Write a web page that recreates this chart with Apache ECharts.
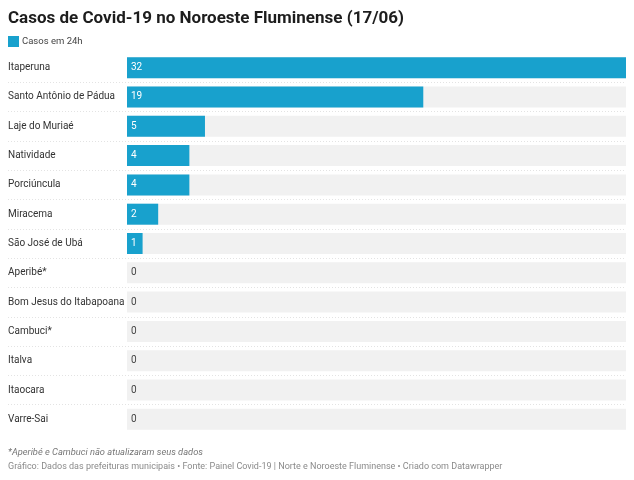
<!DOCTYPE html>
<html>
<head>
<meta charset="utf-8">
<script src="https://cdn.jsdelivr.net/npm/echarts@6/dist/echarts.min.js"></script>
<style>
  html, body { margin: 0; padding: 0; background: #fff; }
  #chart { width: 634px; height: 480px; }
</style>
</head>
<body>
<div id="chart"></div>
<script>
// municípios, de cima para baixo
const cities = [
  'Itaperuna', 'Santo Antônio de Pádua', 'Laje do Muriaé', 'Natividade',
  'Porciúncula', 'Miracema', 'São José de Ubá', 'Aperibé*',
  'Bom Jesus do Itabapoana', 'Cambuci*', 'Italva', 'Itaocara', 'Varre-Sai'
]
const cases24h = [32, 19, 5, 4, 4, 2, 1, 0, 0, 0, 0, 0, 0]
const seriesName = 'Casos em 24h'

const titleText = 'Casos de Covid-19 no Noroeste Fluminense (17/06)'
const noteText = '*Aperibé e Cambuci não atualizaram seus dados'
const sourceText = 'Gráfico: Dados das prefeituras municipais • Fonte: Painel Covid-19 | Norte e Noroeste Fluminense • Criado com Datawrapper'

const FONT = 'Roboto, "Noto Sans", sans-serif'
const BLUE = '#18a1cd'

const chart = echarts.init(document.getElementById('chart'))

const gridBox = { left: 127, right: 8, top: 53, height: 381 }

chart.setOption({
  animation: false,
  textStyle: { fontFamily: FONT },
  title: [
    {
      text: titleText, left: 8, top: 10, padding: 0,
      textStyle: { fontFamily: FONT, fontSize: 17, fontWeight: 'bold', color: '#1d1d1d' }
    },
    {
      text: noteText, left: 8, top: 448, padding: 0,
      textStyle: { fontFamily: FONT, fontSize: 9.3, fontStyle: 'italic', fontWeight: 'normal', color: '#777' }
    },
    {
      text: sourceText, left: 8, top: 462, padding: 0,
      textStyle: { fontFamily: FONT, fontSize: 9, fontWeight: 'normal', color: '#8a8a8a' }
    }
  ],
  legend: {
    data: [seriesName], left: 8, top: 36, padding: 0,
    itemWidth: 11, itemHeight: 11, icon: 'rect',
    textStyle: { fontFamily: FONT, fontSize: 9.5, color: '#444', padding: [0, 0, 0, -2] }
  },
  grid: [
    { ...gridBox },
    // grade auxiliar só para as linhas pontilhadas entre as linhas
    { left: 8, right: 8, top: gridBox.top, height: gridBox.height }
  ],
  xAxis: [
    { type: 'value', min: 0, max: 32, show: false, gridIndex: 0 },
    { type: 'value', min: 0, max: 1, show: false, gridIndex: 1 }
  ],
  yAxis: [
    {
      type: 'category', data: cities, inverse: true, gridIndex: 0,
      axisLine: { show: false }, axisTick: { show: false }, splitLine: { show: false },
      axisLabel: {
        align: 'left', margin: 119,
        fontFamily: FONT, fontSize: 10, color: '#333'
      }
    },
    {
      type: 'category', data: cities, inverse: true, gridIndex: 1,
      axisLine: { show: false }, axisTick: { show: false }, axisLabel: { show: false },
      splitLine: {
        show: true, showMinLine: false, showMaxLine: false,
        lineStyle: { color: '#e3e3e3', type: [1, 2], width: 1 }
      }
    }
  ],
  series: [
    {
      name: seriesName, type: 'bar', xAxisIndex: 0, yAxisIndex: 0,
      barWidth: 21,
      itemStyle: { color: BLUE },
      showBackground: true,
      backgroundStyle: { color: '#f1f1f1' },
      label: {
        show: true, position: 'insideLeft', distance: 4,
        fontFamily: FONT, fontSize: 10
      },
      data: cases24h.map(v => ({
        value: v,
        label: { color: v > 0 ? '#fff' : '#444' }
      }))
    }
  ]
})

window.addEventListener('resize', () => {
  chart.resize()
})
</script>
</body>
</html>
